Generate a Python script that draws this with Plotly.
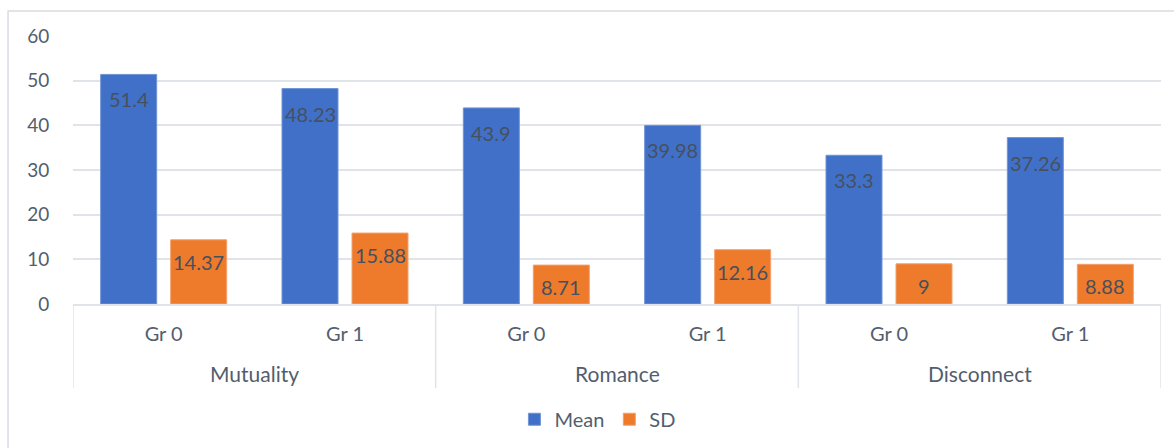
import plotly.graph_objects as go

groups = ["Mutuality", "Romance", "Disconnect"]
subgroups = ["Gr 0", "Gr 1", "Gr 0", "Gr 1", "Gr 0", "Gr 1"]
mean_vals = [51.4, 48.23, 43.9, 39.98, 33.3, 37.26]
sd_vals = [14.37, 15.88, 8.71, 12.16, 9, 8.88]
mean_labels = ["51.4", "48.23", "43.9", "39.98", "33.3", "37.26"]
sd_labels = ["14.37", "15.88", "8.71", "12.16", "9", "8.88"]

FONT = "Lato, Carlito, Calibri, sans-serif"
GRAY = "#525e6e"
LABEL = "#46505e"
LINE = "#e0e3e8"

pos = list(range(len(subgroups)))

fig = go.Figure()
fig.add_trace(go.Bar(x=pos, y=mean_vals, name="Mean",
                     marker=dict(color="#4170c8", line=dict(color="#7094d6", width=1))))
fig.add_trace(go.Bar(x=pos, y=sd_vals, name="SD",
                     marker=dict(color="#ee7a2c", line=dict(color="#f3a06c", width=1))))

annotations = []
for i in pos:
    annotations.append(dict(x=i, y=mean_vals[i], xref="x", yref="y", text=mean_labels[i],
                            showarrow=False, xshift=-35, yshift=-25, yanchor="middle",
                            font=dict(family=FONT, size=20, color=LABEL)))
    annotations.append(dict(x=i, y=sd_vals[i], xref="x", yref="y", text=sd_labels[i],
                            showarrow=False, xshift=35, yshift=-22, yanchor="middle",
                            font=dict(family=FONT, size=20, color=LABEL)))
for g, name in enumerate(groups):
    annotations.append(dict(x=2 * g + 0.5, y=-0.258, xref="x", yref="paper", text=name,
                            showarrow=False, yanchor="middle",
                            font=dict(family=FONT, size=21, color=GRAY)))

shapes = []
for xd in [-0.5, 1.5, 3.5, 5.5]:
    shapes.append(dict(type="line", xref="x", yref="paper", x0=xd, x1=xd, y0=0, y1=-0.313,
                       line=dict(color=LINE, width=1.5)))
shapes.append(dict(type="rect", xref="paper", yref="paper", x0=-0.0597, x1=1.03,
                   y0=1.093, y1=-0.7, line=dict(color="#d9dce1", width=1.5),
                   fillcolor="rgba(0,0,0,0)", layer="below"))

fig.update_layout(
    width=1174, height=448,
    margin=dict(l=73, r=13, t=36, b=144, autoexpand=False),
    paper_bgcolor="white", plot_bgcolor="white",
    barmode="group", bargap=0.228, bargroupgap=0.2,
    font=dict(family=FONT, size=20, color=GRAY),
    showlegend=True,
    legend=dict(orientation="h", x=0.482, xanchor="center", y=-0.43, yanchor="middle",
                font=dict(family=FONT, size=20, color=GRAY), itemwidth=30),
    annotations=annotations,
    shapes=shapes,
    xaxis=dict(range=[-0.5, 5.5], tickvals=pos, ticktext=subgroups, showgrid=False,
               zeroline=False, showline=True, linecolor=LINE, linewidth=1.5,
               ticks="outside", ticklen=11, tickcolor="rgba(0,0,0,0)",
               tickfont=dict(family=FONT, size=20, color=GRAY)),
    yaxis=dict(range=[0, 60], dtick=10, showgrid=True, gridcolor=LINE, gridwidth=1.5,
               zeroline=False, showline=False, ticks="outside", ticklen=19,
               tickcolor="rgba(0,0,0,0)",
               tickfont=dict(family=FONT, size=19, color=GRAY)),
)

fig.write_html("out.html")
